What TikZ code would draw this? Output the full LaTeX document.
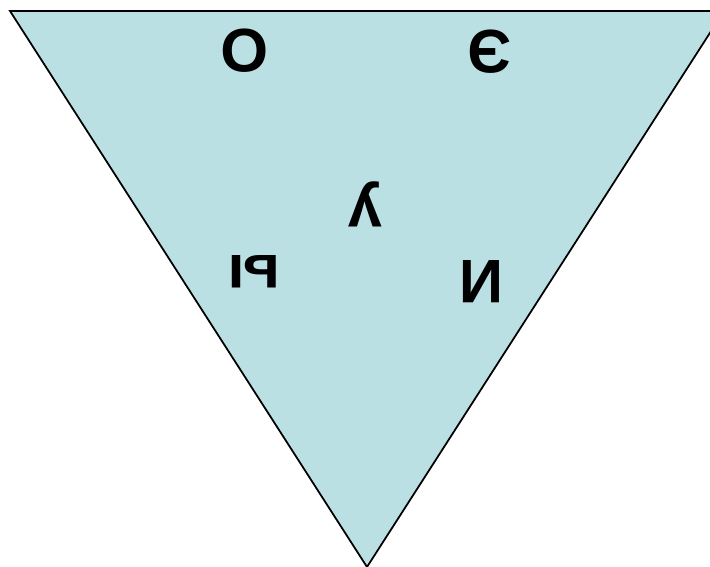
\documentclass[tikz,border=0pt]{standalone}
\usepackage{fontspec}
\setmainfont{Liberation Sans}
\usetikzlibrary{positioning}
\definecolor{trifill}{HTML}{BBE0E3}
\tikzset{
  vowel/.style={font=\fontsize{35}{38}\selectfont\bfseries, rotate=180, inner sep=0pt},
  tri/.style={draw=black, line width=1pt, fill=trifill}
}
\begin{document}
\begin{tikzpicture}[x=0.02cm, y=-0.02cm]
        \useasboundingbox (0,0) rectangle (710,567);
        \begin{scope}
        \clip (0,0) rectangle (710,567);
        \coordinate (tl) at (10,11);
        \coordinate (tr) at (724,11);
        \coordinate (apex) at (367,567);
        \draw [tri] (tl) -- (tr) -- (apex) -- cycle;
        \end{scope}

        % rotated letters
        \node (o) [vowel] at (245,51) {О};
        \node (e) [vowel] at (490,52) {Э};
        \node (u) [vowel] at (365,204) {у};
        \node (y) [vowel] at (254,272) {ы};
        \node (i) [vowel] at (481,282) {И};
\end{tikzpicture}
\end{document}
